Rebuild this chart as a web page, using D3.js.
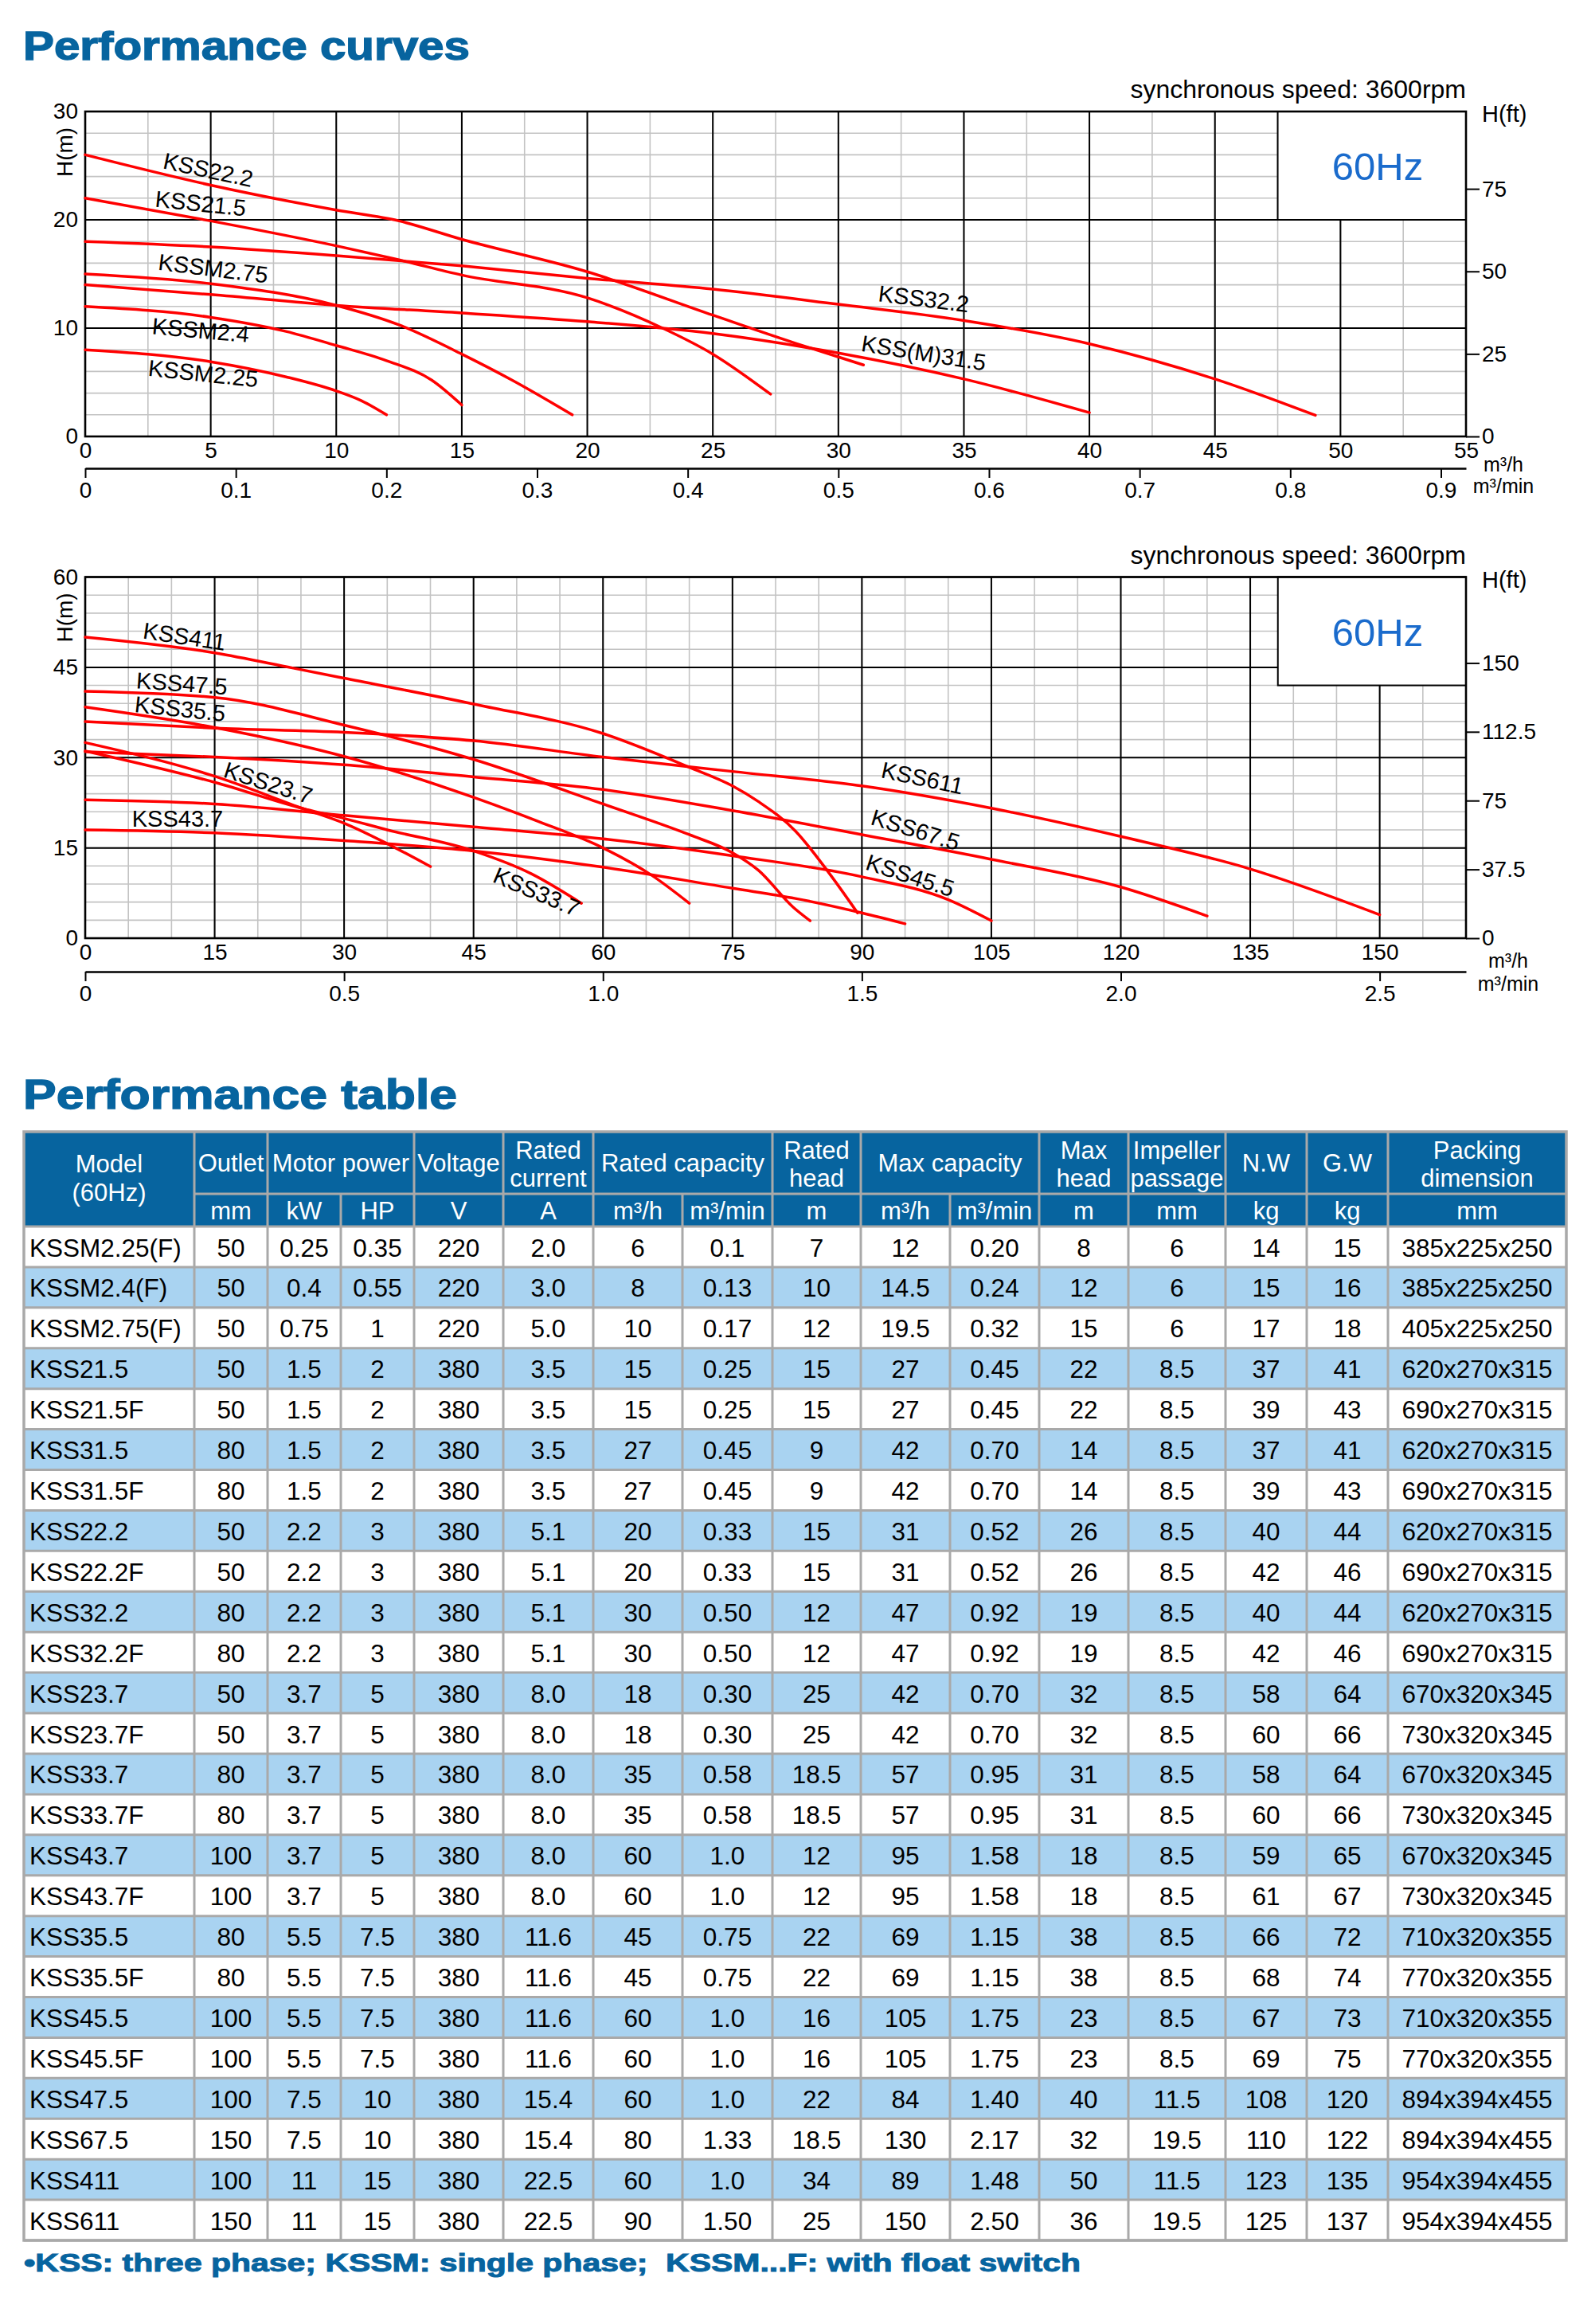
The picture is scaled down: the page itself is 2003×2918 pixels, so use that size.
<!DOCTYPE html>
<html>
<head>
<meta charset="utf-8">
<script src="https://cdn.jsdelivr.net/npm/d3@7"></script>
<style>
  body { margin: 0; background: #fff; }
  svg { display: block; font-family: "Liberation Sans", Arial, sans-serif; }
</style>
</head>
<body>
<svg id="page" width="2003" height="2918"></svg>
<script>
// ---- chart 1: flow (m3/h), head (m)
var c1Names = ["KSSM2.25", "KSSM2.4", "KSSM2.75", "KSS21.5", "KSS22.2", "KSS32.2", "KSS(M)31.5"];
var kssm225 = [[0, 8], [5, 6.9], [8, 5.5], [10, 4.2], [11, 3.3], [12, 2]];
var kssm24 = [[0, 12], [5, 11], [8, 9.7], [10, 8.4], [12, 7.0], [13.8, 5.2], [15, 2.9]];
var kssm275 = [[0, 15], [5, 14.1], [10, 12.1], [12.5, 10.3], [15, 7.6], [17, 5.2], [19.4, 2]];
var kss215 = [[0, 22], [5, 19.9], [10, 17.6], [12.5, 16.3], [15, 14.9], [20, 12.8], [23, 10.0], [25, 7.6], [27.3, 3.9]];
var kss222 = [[0, 26], [5, 23.2], [10, 20.9], [12.5, 19.9], [15, 18.2], [20, 15.2], [25, 11.2], [28.3, 8.6], [31, 6.6]];
var kss322 = [[0, 18], [5, 17.5], [10, 16.7], [15, 15.75], [20, 14.6], [25, 13.6], [30, 12.2], [35, 10.7], [40, 8.55], [45, 5.3], [49, 1.95]];
var kssm315 = [[0, 14], [5, 13.1], [10, 12.1], [15, 11.4], [20, 10.6], [25, 9.5], [30, 7.7], [35, 5.3], [40, 2.2]];
var c1Curves = [kssm225, kssm24, kssm275, kss215, kss222, kss322, kssm315];
var c1XTicks = [0, 5, 10, 15, 20, 25, 30, 35, 40, 45, 50, 55];
var c1YTicks = [0, 10, 20, 30];
var c1FtTicks = [0, 25, 50, 75];
var c1MinTicks = [0, 0.1, 0.2, 0.3, 0.4, 0.5, 0.6, 0.7, 0.8, 0.9];

// ---- chart 2
var c2Names = ["KSS411", "KSS47.5", "KSS35.5", "KSS23.7", "KSS43.7", "KSS33.7", "KSS611", "KSS67.5", "KSS45.5"];
var kss411 = [[0, 50], [15, 47.4], [24, 44.9], [30, 43.2], [45, 38.9], [60, 34.0], [70, 28.4], [75, 25.3], [78, 22.7], [82.3, 17.8], [86, 11.2], [89.5, 4.2]];
var kss475 = [[0, 41], [15, 40], [30, 35.4], [45, 29.7], [60, 22.3], [70, 17.2], [75, 14.2], [78, 11.3], [82, 5.2], [84, 2.9]];
var kss355 = [[0, 38.4], [15, 35], [30, 30.2], [45, 23.4], [52.5, 19.4], [60, 15], [65.7, 10.4], [70, 5.8]];
var kss237 = [[0, 32.5], [15, 26.9], [25.3, 21.5], [30, 19.1], [35, 15.7], [40, 11.9]];
var kss437 = [[0, 18], [15, 17.5], [30, 16.2], [45, 14.5], [60, 11.8], [75, 8.3], [82.3, 6.6], [90, 4.2], [95, 2.4]];
var kss337 = [[0, 31.1], [15, 25.9], [25.3, 21.5], [30, 19.9], [35, 18.0], [45, 14.5], [51.7, 10.7], [57.5, 5.8]];
var kss611 = [[0, 36], [15, 34.9], [30, 34.2], [45, 32.8], [60, 30.1], [75, 27.7], [90, 25.3], [105, 21.6], [120, 16.9], [135, 11.5], [150, 3.9]];
var kss675 = [[0, 31], [15, 30.1], [30, 28.8], [45, 26.8], [60, 24.7], [75, 21.2], [90, 17.2], [105, 13.1], [120, 8.5], [130, 3.7]];
var kss455 = [[0, 23], [15, 22.3], [30, 20.4], [45, 18.5], [60, 16.5], [75, 13.7], [90, 10.2], [100, 6.4], [105, 2.9]];
var c2Curves = [kss411, kss475, kss355, kss237, kss437, kss337, kss611, kss675, kss455];
var c2XTicks = [0, 15, 30, 45, 60, 75, 90, 105, 120, 135, 150];
var c2YTicks = [0, 15, 30, 45, 60];
var c2FtTicks = [0, 37.5, 75, 112.5, 150];
var c2MinTicks = [0, 0.5, 1.0, 1.5, 2.0, 2.5];

// ---- table
var headTop = [["Model", "(60Hz)"], ["Outlet"], ["Motor power"], ["Voltage"], ["Rated", "current"], ["Rated capacity"],
  ["Rated", "head"], ["Max capacity"], ["Max", "head"], ["Impeller", "passage"], ["N.W"], ["G.W"], ["Packing", "dimension"]];
var headSpan = [1, 1, 2, 1, 1, 2, 1, 2, 1, 1, 1, 1, 1];
var headUnits = ["", "mm", "kW", "HP", "V", "A", "m³/h", "m³/min", "m", "m³/h", "m³/min", "m", "mm", "kg", "kg", "mm"];
var tableRows = [
  ["KSSM2.25(F)", "50", "0.25", "0.35", "220", "2.0", "6", "0.1", "7", "12", "0.20", "8", "6", "14", "15", "385x225x250"],
  ["KSSM2.4(F)", "50", "0.4", "0.55", "220", "3.0", "8", "0.13", "10", "14.5", "0.24", "12", "6", "15", "16", "385x225x250"],
  ["KSSM2.75(F)", "50", "0.75", "1", "220", "5.0", "10", "0.17", "12", "19.5", "0.32", "15", "6", "17", "18", "405x225x250"],
  ["KSS21.5", "50", "1.5", "2", "380", "3.5", "15", "0.25", "15", "27", "0.45", "22", "8.5", "37", "41", "620x270x315"],
  ["KSS21.5F", "50", "1.5", "2", "380", "3.5", "15", "0.25", "15", "27", "0.45", "22", "8.5", "39", "43", "690x270x315"],
  ["KSS31.5", "80", "1.5", "2", "380", "3.5", "27", "0.45", "9", "42", "0.70", "14", "8.5", "37", "41", "620x270x315"],
  ["KSS31.5F", "80", "1.5", "2", "380", "3.5", "27", "0.45", "9", "42", "0.70", "14", "8.5", "39", "43", "690x270x315"],
  ["KSS22.2", "50", "2.2", "3", "380", "5.1", "20", "0.33", "15", "31", "0.52", "26", "8.5", "40", "44", "620x270x315"],
  ["KSS22.2F", "50", "2.2", "3", "380", "5.1", "20", "0.33", "15", "31", "0.52", "26", "8.5", "42", "46", "690x270x315"],
  ["KSS32.2", "80", "2.2", "3", "380", "5.1", "30", "0.50", "12", "47", "0.92", "19", "8.5", "40", "44", "620x270x315"],
  ["KSS32.2F", "80", "2.2", "3", "380", "5.1", "30", "0.50", "12", "47", "0.92", "19", "8.5", "42", "46", "690x270x315"],
  ["KSS23.7", "50", "3.7", "5", "380", "8.0", "18", "0.30", "25", "42", "0.70", "32", "8.5", "58", "64", "670x320x345"],
  ["KSS23.7F", "50", "3.7", "5", "380", "8.0", "18", "0.30", "25", "42", "0.70", "32", "8.5", "60", "66", "730x320x345"],
  ["KSS33.7", "80", "3.7", "5", "380", "8.0", "35", "0.58", "18.5", "57", "0.95", "31", "8.5", "58", "64", "670x320x345"],
  ["KSS33.7F", "80", "3.7", "5", "380", "8.0", "35", "0.58", "18.5", "57", "0.95", "31", "8.5", "60", "66", "730x320x345"],
  ["KSS43.7", "100", "3.7", "5", "380", "8.0", "60", "1.0", "12", "95", "1.58", "18", "8.5", "59", "65", "670x320x345"],
  ["KSS43.7F", "100", "3.7", "5", "380", "8.0", "60", "1.0", "12", "95", "1.58", "18", "8.5", "61", "67", "730x320x345"],
  ["KSS35.5", "80", "5.5", "7.5", "380", "11.6", "45", "0.75", "22", "69", "1.15", "38", "8.5", "66", "72", "710x320x355"],
  ["KSS35.5F", "80", "5.5", "7.5", "380", "11.6", "45", "0.75", "22", "69", "1.15", "38", "8.5", "68", "74", "770x320x355"],
  ["KSS45.5", "100", "5.5", "7.5", "380", "11.6", "60", "1.0", "16", "105", "1.75", "23", "8.5", "67", "73", "710x320x355"],
  ["KSS45.5F", "100", "5.5", "7.5", "380", "11.6", "60", "1.0", "16", "105", "1.75", "23", "8.5", "69", "75", "770x320x355"],
  ["KSS47.5", "100", "7.5", "10", "380", "15.4", "60", "1.0", "22", "84", "1.40", "40", "11.5", "108", "120", "894x394x455"],
  ["KSS67.5", "150", "7.5", "10", "380", "15.4", "80", "1.33", "18.5", "130", "2.17", "32", "19.5", "110", "122", "894x394x455"],
  ["KSS411", "100", "11", "15", "380", "22.5", "60", "1.0", "34", "89", "1.48", "50", "11.5", "123", "135", "954x394x455"],
  ["KSS611", "150", "11", "15", "380", "22.5", "90", "1.50", "25", "150", "2.50", "36", "19.5", "125", "137", "954x394x455"]
];

// ---- layout (label spots in data units, angle in degrees)
var c1LabelPos = [[4.7, 5.8, 6], [4.6, 9.8, 5], [5.1, 15.5, 7], [4.6, 21.5, 6], [4.9, 24.6, 12], [33.4, 12.7, 7], [33.4, 7.7, 9]];
var c2LabelPos = [[11.5, 50.1, 8.5], [11.2, 42.3, 4], [11.0, 38.1, 6], [21.2, 25.8, 17.6], [10.7, 19.9, 0],
  [52.3, 7.7, 23], [97, 26.6, 12], [96.2, 18.0, 17], [95.6, 10.4, 18]];

var BLUE = "#07649f";
var FONT = "'Liberation Sans', Arial, sans-serif";
var svg = d3.select("#page");
svg.append("rect").attr("width", 2003).attr("height", 2918).attr("fill", "#fff");

function heading(txt, x, y, len, size) {
  svg.append("text")
    .attr("x", x).attr("y", y)
    .attr("font-size", size).attr("font-weight", "bold")
    .attr("fill", BLUE).attr("stroke", BLUE).attr("stroke-width", 1.4)
    .attr("textLength", len).attr("lengthAdjust", "spacingAndGlyphs")
    .text(txt);
}

function minFmt(d) {
  return d === 0 ? "0" : d.toFixed(1);
}

function drawChart(c) {
  var L = 107, R = 1841;
  var x = d3.scaleLinear().domain([0, c.xMax]).range([L, R]);
  var y = d3.scaleLinear().domain([0, c.yMax]).range([c.bottom, c.top]);
  var yFt = d3.scaleLinear().domain([0, c.yMax / 0.3048]).range([c.bottom, c.top]);
  var xMin = d3.scaleLinear().domain([0, c.xMax / 60]).range([L, R]);
  var g = svg.append("g");

  // minor grid
  g.selectAll(".vmin").data(d3.range(0, c.xMax + 0.001, c.xMinor)).enter().append("line")
    .attr("x1", x).attr("x2", x).attr("y1", c.top).attr("y2", c.bottom)
    .attr("stroke", "#c3c3c3").attr("stroke-width", 1.6);
  g.selectAll(".hmin").data(d3.range(0, c.yMax + 0.001, c.yMinor)).enter().append("line")
    .attr("y1", y).attr("y2", y).attr("x1", L).attr("x2", R)
    .attr("stroke", "#c3c3c3").attr("stroke-width", 1.6);
  // major grid
  g.selectAll(".vmaj").data(d3.range(0, c.xMax + 0.001, c.xMajor)).enter().append("line")
    .attr("x1", x).attr("x2", x).attr("y1", c.top).attr("y2", c.bottom)
    .attr("stroke", "#000").attr("stroke-width", 2);
  g.selectAll(".hmaj").data(d3.range(0, c.yMax + 0.001, c.yMajor)).enter().append("line")
    .attr("y1", y).attr("y2", y).attr("x1", L).attr("x2", R)
    .attr("stroke", "#000").attr("stroke-width", 2);

  // 60Hz box
  g.append("rect")
    .attr("x", x(c.boxX)).attr("y", c.top)
    .attr("width", R - x(c.boxX)).attr("height", y(c.boxY) - c.top)
    .attr("fill", "#fff").attr("stroke", "#000").attr("stroke-width", 2);
  g.append("text")
    .attr("x", 1730).attr("y", c.top + 86)
    .attr("text-anchor", "middle").attr("font-size", 49).attr("fill", "#1a6bcc")
    .text("60Hz");

  // frame
  g.append("rect")
    .attr("x", L).attr("y", c.top).attr("width", R - L).attr("height", c.bottom - c.top)
    .attr("fill", "none").attr("stroke", "#000").attr("stroke-width", 2.6);

  // axes
  var ax = g.append("g").attr("transform", "translate(" + L + ",0)")
    .call(d3.axisLeft(y).tickValues(c.yTicks).tickSize(0).tickPadding(9));
  ax.select(".domain").remove();

  var axR = g.append("g").attr("transform", "translate(" + R + ",0)")
    .call(d3.axisRight(yFt).tickValues(c.ftTicks).tickFormat(function(d) { return String(d); })
      .tickSize(17).tickPadding(3));
  axR.select(".domain").remove();

  var axB = g.append("g").attr("transform", "translate(0," + c.bottom + ")")
    .call(d3.axisBottom(x).tickValues(c.xTicks).tickSize(0).tickPadding(7));
  axB.select(".domain").remove();

  var axM = g.append("g").attr("transform", "translate(0," + c.minY + ")")
    .call(d3.axisBottom(xMin).tickValues(c.minTicks).tickFormat(minFmt)
      .tickSize(12).tickSizeOuter(0).tickPadding(5));
  axM.select(".domain").attr("stroke-width", 2.6);

  [ax, axR, axB, axM].forEach(function(a) {
    a.attr("font-family", FONT).attr("font-size", 28);
    a.selectAll("text").attr("fill", "#000");
    a.selectAll("line").attr("stroke", "#000").attr("stroke-width", 2);
  });

  // curves
  var line = d3.line()
    .x(function(d) { return x(d[0]); })
    .y(function(d) { return y(d[1]); })
    .curve(d3.curveMonotoneX);

  g.selectAll(".curve").data(c.curves).enter().append("path")
    .attr("d", line)
    .attr("fill", "none").attr("stroke", "#ff0000").attr("stroke-width", 3.5)
    .attr("stroke-linecap", "round");

  g.selectAll(".lbl").data(c.names).enter().append("text")
    .attr("transform", function(d, i) {
      var p = c.labels[i];
      return "translate(" + x(p[0]) + "," + y(p[1]) + ") rotate(" + p[2] + ")";
    })
    .attr("text-anchor", "middle").attr("dominant-baseline", "central")
    .attr("font-size", 29).attr("fill", "#000")
    .text(function(d) { return d; });

  // side texts
  g.append("text").attr("x", R).attr("y", c.top - 17)
    .attr("text-anchor", "end").attr("font-size", 32).text("synchronous speed: 3600rpm");
  g.append("text").attr("x", 1861).attr("y", c.top + 13)
    .attr("font-size", 29).text("H(ft)");
  g.append("text")
    .attr("transform", "translate(81," + (c.top + 51) + ") rotate(-90)")
    .attr("text-anchor", "middle").attr("dominant-baseline", "central")
    .attr("font-size", 28).text("H(m)");
  g.append("text").attr("x", c.unitX).attr("y", c.unitY1)
    .attr("text-anchor", "middle").attr("font-size", 25).text("m³/h");
  g.append("text").attr("x", c.unitX).attr("y", c.unitY2)
    .attr("text-anchor", "middle").attr("font-size", 25).text("m³/min");
}

heading("Performance curves", 29, 75, 561, 50);

drawChart({
  top: 140, bottom: 548, minY: 588, xMax: 55, yMax: 30,
  xMinor: 2.5, xMajor: 5, yMinor: 2, yMajor: 10,
  boxX: 47.5, boxY: 20,
  xTicks: c1XTicks, yTicks: c1YTicks, ftTicks: c1FtTicks, minTicks: c1MinTicks,
  curves: c1Curves, names: c1Names, labels: c1LabelPos,
  unitX: 1888, unitY1: 592, unitY2: 619
});

drawChart({
  top: 724.5, bottom: 1178, minY: 1220, xMax: 160, yMax: 60,
  xMinor: 5, xMajor: 15, yMinor: 3, yMajor: 15,
  boxX: 138.2, boxY: 42,
  xTicks: c2XTicks, yTicks: c2YTicks, ftTicks: c2FtTicks, minTicks: c2MinTicks,
  curves: c2Curves, names: c2Names, labels: c2LabelPos,
  unitX: 1894, unitY1: 1215, unitY2: 1244
});

// ---- performance table
heading("Performance table", 29, 1392, 545, 52);

var colEdges = [30, 244, 336, 428, 520, 632, 745, 857, 970, 1081, 1193, 1305, 1417, 1539, 1641, 1743, 1967];
var tTop = 1421, h1 = 1499, h2 = 1540, rowH = 50.92;
var tBottom = h2 + rowH * tableRows.length;
var GRID = "#a9a9a9";
var tg = svg.append("g").attr("font-family", FONT);

tg.append("rect").attr("x", 30).attr("y", tTop).attr("width", 1937).attr("height", h2 - tTop).attr("fill", BLUE);

tg.selectAll(".row").data(tableRows).enter().append("rect")
  .attr("x", 30).attr("y", function(d, i) { return h2 + i * rowH; })
  .attr("width", 1937).attr("height", rowH)
  .attr("fill", function(d, i) { return i % 2 ? "#a9d3f1" : "#fff"; });

// horizontal rules
var hLines = [h1, h2].concat(tableRows.map(function(d, i) { return h2 + (i + 1) * rowH; }));
tg.selectAll(".hl").data(hLines).enter().append("line")
  .attr("x1", function(d) { return d === h1 ? colEdges[1] : 30; }).attr("x2", 1967)
  .attr("y1", function(d) { return d; }).attr("y2", function(d) { return d; })
  .attr("stroke", GRID).attr("stroke-width", 3);

// vertical rules, spanned headers only start below the first header row
var spanned = {};
var ci = 0;
headSpan.forEach(function(s) {
  for (var k = 1; k < s; k++) spanned[ci + k] = true;
  ci += s;
});
tg.selectAll(".vl").data(colEdges.slice(1, -1)).enter().append("line")
  .attr("x1", function(d) { return d; }).attr("x2", function(d) { return d; })
  .attr("y1", function(d, i) { return spanned[i + 1] ? h1 : tTop; }).attr("y2", tBottom)
  .attr("stroke", GRID).attr("stroke-width", 3);

tg.append("rect").attr("x", 30).attr("y", tTop).attr("width", 1937).attr("height", tBottom - tTop)
  .attr("fill", "none").attr("stroke", GRID).attr("stroke-width", 3.5);

// header text
ci = 0;
headTop.forEach(function(lines, i) {
  var c0 = ci, c1 = ci + headSpan[i];
  ci = c1;
  var cx = (colEdges[c0] + colEdges[c1]) / 2;
  var ys;
  if (i === 0) ys = [1472, 1508];
  else ys = lines.length === 2 ? [1455, 1490] : [1471];
  lines.forEach(function(t, j) {
    tg.append("text").attr("x", cx).attr("y", ys[j])
      .attr("text-anchor", "middle").attr("font-size", 31).attr("fill", "#fff").text(t);
  });
});
headUnits.forEach(function(t, i) {
  if (!t) return;
  tg.append("text").attr("x", (colEdges[i] + colEdges[i + 1]) / 2).attr("y", 1531)
    .attr("text-anchor", "middle").attr("font-size", 31).attr("fill", "#fff").text(t);
});

// body text
tableRows.forEach(function(row, r) {
  var by = h2 + r * rowH + 37.5;
  row.forEach(function(t, i) {
    tg.append("text")
      .attr("x", i === 0 ? 37 : (colEdges[i] + colEdges[i + 1]) / 2)
      .attr("y", by)
      .attr("text-anchor", i === 0 ? "start" : "middle")
      .attr("font-size", 31.5).attr("fill", "#000").text(t);
  });
});

svg.append("text")
  .attr("x", 30).attr("y", 2852)
  .attr("font-size", 32).attr("font-weight", "bold")
  .attr("fill", BLUE).attr("stroke", BLUE).attr("stroke-width", 1)
  .attr("textLength", 1327).attr("lengthAdjust", "spacingAndGlyphs")
  .text("\u2022KSS: three phase; KSSM: single phase;\u00a0\u00a0KSSM...F: with float switch");
</script>
</body>
</html>
